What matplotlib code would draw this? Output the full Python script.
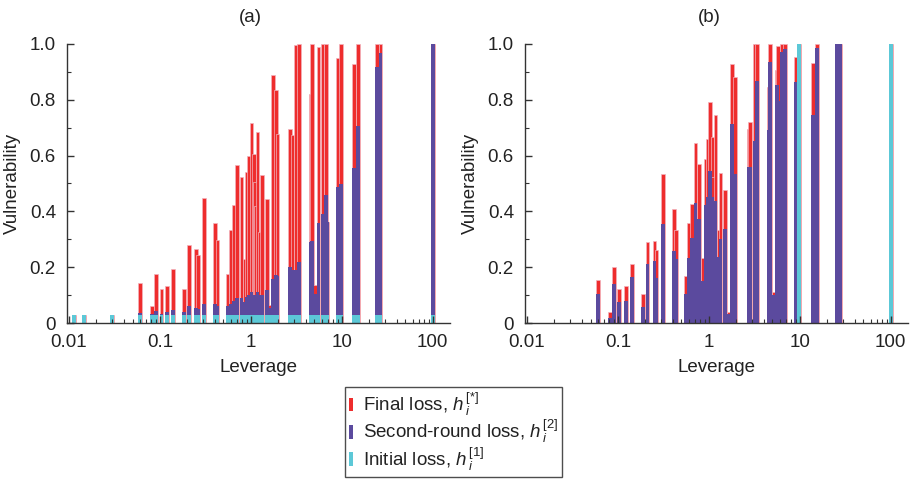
import numpy as np
import matplotlib
matplotlib.use('Agg')
import matplotlib.pyplot as plt
from matplotlib.patches import Patch
from matplotlib.ticker import LogLocator, MultipleLocator, FixedLocator, FixedFormatter

plt.rcParams['font.family'] = ['Liberation Sans', 'DejaVu Sans']
plt.rcParams['mathtext.fontset'] = 'custom'
plt.rcParams['mathtext.rm'] = 'Liberation Sans'
plt.rcParams['mathtext.it'] = 'Liberation Sans:italic'

RED = '#ee2d2d'
PURPLE = '#5b4a9e'
CYAN = '#5cc8d7'
TEXT = '#222222'
FS = 13.5

# panel (a): uniform initial shock
lev_a = [0.0113, 0.0146, 0.0295, 0.0601, 0.0818, 0.0899, 0.1036, 0.1205, 0.1403, 0.1853,
         0.2104, 0.2475, 0.2624, 0.3076, 0.4036, 0.4305, 0.5546, 0.601, 0.6486, 0.6998,
         0.787, 0.857, 0.902, 0.948, 1.014, 1.077, 1.104, 1.127, 1.180, 1.247,
         1.328, 1.496, 1.585, 1.754, 1.879, 1.955, 2.71, 2.87, 3.14, 3.36,
         4.54, 4.72, 5.09, 5.54, 6.15, 6.67, 6.89, 9.10, 9.74, 13.7,
         15.2, 24.4, 26.6, 100.0]
final_a = [0.028, 0.028, 0.028, 0.144, 0.062, 0.177, 0.122, 0.134, 0.193, 0.123,
           0.279, 0.264, 0.242, 0.449, 0.36, 0.297, 0.176, 0.333, 0.422, 0.568,
           0.524, 0.231, 0.542, 0.60, 0.718, 0.604, 0.504, 0.42, 0.683, 0.327,
           0.529, 0.444, 0.063, 0.888, 0.835, 0.677, 0.694, 0.673, 0.996, 1.0,
           0.82, 1.0, 0.135, 0.99, 1.0, 1.0, 0.362, 0.949, 1.0, 0.93,
           1.0, 1.0, 1.0, 1.0]
second_a = [0.028, 0.028, 0.028, 0.036, 0.031, 0.042, 0.033, 0.039, 0.045, 0.04,
            0.06, 0.055, 0.05, 0.067, 0.069, 0.06, 0.062, 0.069, 0.078, 0.09,
            0.09, 0.075, 0.093, 0.10, 0.111, 0.10, 0.095, 0.09, 0.111, 0.10,
            0.099, 0.117, 0.054, 0.159, 0.171, 0.17, 0.199, 0.19, 0.191, 0.217,
            0.29, 0.294, 0.105, 0.359, 0.392, 0.458, 0.362, 0.486, 0.5, 0.554,
            0.706, 0.919, 0.967, 1.0]
initial_a = [0.028, 0.028, 0.028, 0.028, 0.028, 0.028, 0.028, 0.028, 0.028, 0.028,
             0.028, 0.028, 0.028, 0.028, 0.028, 0.028, 0.028, 0.028, 0.028, 0.028,
             0.028, 0.028, 0.028, 0.028, 0.028, 0.028, 0.028, 0.028, 0.028, 0.028,
             0.028, 0.028, 0.028, 0.028, 0.028, 0.028, 0.028, 0.028, 0.028, 0.028,
             0.028, 0.028, 0.028, 0.028, 0.028, 0.028, 0.028, 0.028, 0.028, 0.028,
             0.028, 0.028, 0.028, 0.028]

# panel (b): two banks fully shocked
lev_b = [0.060, 0.0819, 0.0906, 0.1028, 0.1218, 0.1419, 0.1889, 0.2105, 0.2513, 0.266,
         0.311, 0.414, 0.4385, 0.551, 0.605, 0.653, 0.710, 0.780, 0.863, 0.920,
         0.964, 1.023, 1.094, 1.114, 1.181, 1.274, 1.340, 1.508, 1.638, 1.786,
         1.942, 2.72, 2.82, 3.17, 3.37, 4.54, 4.74, 5.19, 5.58, 5.72,
         6.34, 6.89, 9.10, 9.75, 13.9, 15.4, 25.7, 27.7, 101.0]
final_b = [0.153, 0.039, 0.2, 0.121, 0.132, 0.213, 0.105, 0.289, 0.295, 0.26,
           0.533, 0.407, 0.333, 0.167, 0.359, 0.426, 0.644, 0.569, 0.233, 0.587,
           0.659, 0.793, 0.665, 0.524, 0.745, 0.333, 0.539, 0.476, 0.039, 0.928,
           0.883, 0.695, 0.719, 1.0, 1.0, 0.847, 1.0, 0.111, 0.907, 0.993,
           1.0, 1.0, 0.952, 1.0, 0.933, 1.0, 1.0, 1.0, 1.0]
second_b = [0.105, 0.019, 0.141, 0.075, 0.079, 0.165, 0.057, 0.213, 0.222, 0.163,
            0.356, 0.258, 0.23, 0.105, 0.233, 0.303, 0.431, 0.374, 0.151, 0.422,
            0.45, 0.545, 0.452, 0.273, 0.438, 0.237, 0.3, 0.336, 0.033, 0.715,
            0.533, 0.56, 0.56, 0.652, 0.868, 0.69, 0.937, 0.099, 0.853, 0.795,
            0.973, 0.981, 0.865, 1.0, 0.745, 0.984, 1.0, 1.0, 1.0]
initial_b = [0, 0, 0, 0, 0, 0, 0, 0, 0, 0,
             0, 0, 0, 0, 0, 0, 0, 0, 0, 0,
             0, 0, 0, 0, 0, 0, 0, 0, 0, 0,
             0, 0, 0, 0, 0, 0, 0, 0, 0, 0,
             0, 0, 0, 1.0, 0, 0, 0, 0, 1.0]

panel_titles = ['(a)', '(b)']
legend_labels = [r'Final loss, $h\,{}_i^{[*]}$',
                 r'Second-round loss, $h\,{}_i^{[2]}$',
                 r'Initial loss, $h\,{}_i^{[1]}$']

HALF = 0.02  # half bar width in decades


def draw_panel(ax, lev, final, second, initial, title):
    lev = np.asarray(lev)
    left = lev * 10 ** (-HALF)
    width = lev * (10 ** HALF - 10 ** (-HALF))
    ax.bar(left, final, width, align='edge', color=RED, edgecolor='#f2b3bd', linewidth=0.5)
    ax.bar(left, second, width, align='edge', color=PURPLE, linewidth=0)
    ax.bar(left, initial, width, align='edge', color=CYAN, linewidth=0)

    ax.set_xscale('log')
    ax.set_xlim(0.0095, 155)
    ax.set_ylim(0, 1)
    for s in ['top', 'right']:
        ax.spines[s].set_visible(False)
    for s in ['left', 'bottom']:
        ax.spines[s].set_color('#333333')
        ax.spines[s].set_linewidth(1.0)

    ax.xaxis.set_major_locator(FixedLocator([0.01, 0.1, 1, 10, 100]))
    ax.xaxis.set_major_formatter(FixedFormatter(['0.01', '0.1', '1', '10', '100']))
    ax.xaxis.set_minor_locator(LogLocator(base=10, subs=np.arange(2, 10)))
    ax.yaxis.set_major_locator(FixedLocator([0, 0.2, 0.4, 0.6, 0.8, 1.0]))
    ax.yaxis.set_major_formatter(FixedFormatter(['0', '0.2', '0.4', '0.6', '0.8', '1.0']))
    ax.yaxis.set_minor_locator(MultipleLocator(0.1))
    ax.tick_params(which='major', direction='in', length=5, width=1, color='#333333',
                   labelsize=FS, labelcolor=TEXT, pad=8)
    ax.tick_params(which='minor', direction='in', length=3, width=0.8, color='#333333')

    ax.set_xlabel('Leverage', fontsize=FS, color=TEXT, labelpad=6)
    ax.set_ylabel('Vulnerability', fontsize=FS, color=TEXT, labelpad=6)
    ax.text(1, 1.095, title, transform=ax.get_xaxis_transform(), ha='center', va='center',
            fontsize=FS, color=TEXT)


fig = plt.figure(figsize=(9.11, 4.79), dpi=100)
ax_a = fig.add_axes([67 / 911, 1 - 323 / 479, 383 / 911, 279 / 479])
ax_b = fig.add_axes([525 / 911, 1 - 323 / 479, 383 / 911, 279 / 479])

draw_panel(ax_a, lev_a, final_a, second_a, initial_a, panel_titles[0])
draw_panel(ax_b, lev_b, final_b, second_b, initial_b, panel_titles[1])

handles = [Patch(facecolor=RED), Patch(facecolor=PURPLE), Patch(facecolor=CYAN)]
leg = fig.legend(handles, legend_labels, loc='upper left', bbox_to_anchor=(345 / 911, 1 - 387 / 479),
                 fontsize=FS, frameon=True, fancybox=False, handlelength=0.25, handleheight=0.75,
                 handletextpad=0.5, labelspacing=0.0, borderpad=0.2, borderaxespad=0)
leg.get_frame().set_edgecolor('#222222')
leg.get_frame().set_linewidth(1.0)
for t in leg.get_texts():
    t.set_color(TEXT)

fig.savefig('out.png', dpi=100)
